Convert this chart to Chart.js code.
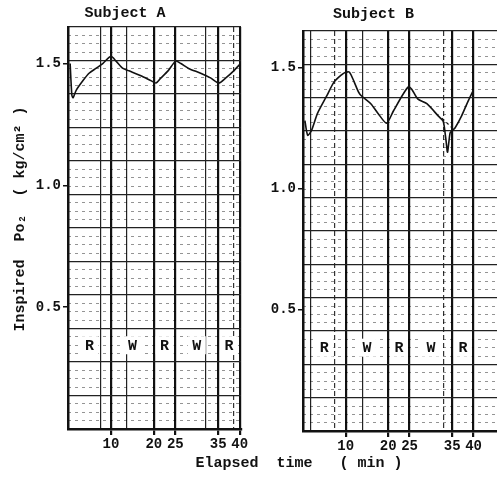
<!DOCTYPE html>
<html>
<head>
<meta charset="utf-8">
<script src="https://cdn.jsdelivr.net/npm/chart.js@4/dist/chart.umd.min.js"></script>
<style>
  html, body { margin: 0; padding: 0; background: #fff; width: 497px; height: 478px; overflow: hidden; }
  .panel { position: absolute; top: 0; height: 478px; }
  #wa { left: 0; width: 250px; }
  #wb { left: 250px; width: 247px; }
  #xtitle { position: absolute; left: 149px; width: 300px; top: 455px; text-align: center;
            font: bold 15px "Liberation Mono", monospace; white-space: pre; color: #111; }
</style>
</head>
<body>
<div class="panel" id="wa"><canvas id="ca" width="250" height="478"></canvas></div>
<div class="panel" id="wb"><canvas id="cb" width="247" height="478"></canvas></div>
<div id="xtitle">Elapsed  time   ( min )</div>
<script>
// Inspired oxygen partial pressure during alternating rest (R) / work (W) phases
const xTicks = [10, 20, 25, 35, 40];
const yTicks = [0.5, 1.0, 1.5];

const phaseStart  = [0, 10, 20, 25, 35];
const phaseEnd    = [10, 20, 25, 35, 40];
const phaseLabels = ['R', 'W', 'R', 'W', 'R'];

// Subject A
const aTime = [0.5, 0.9, 1.2, 1.9, 3.5, 4.9, 6.5, 8.1, 10.0, 11.2, 12.8, 14.2, 17.0, 19.3, 20.5,
               21.6, 23.3, 25.1, 26.3, 28.1, 30.9, 33.3, 35.1, 36.7, 38.6, 40.2];
const aPo2  = [1.50, 1.37, 1.36, 1.39, 1.43, 1.46, 1.48, 1.50, 1.53, 1.51, 1.48, 1.47, 1.45, 1.43, 1.42,
               1.44, 1.47, 1.51, 1.50, 1.48, 1.46, 1.44, 1.42, 1.44, 1.47, 1.50];

// Subject B
const bTime = [0.45, 1.1, 2.0, 3.4, 5.5, 7.3, 9.1, 10.0, 10.9, 12.0, 13.3, 15.9, 17.6, 19.6, 21.2,
               23.5, 24.75, 25.5, 26.9, 29.05, 31.7, 32.8, 33.1, 33.6, 33.9, 34.5, 35.0, 35.65,
               37.2, 38.7, 39.8];
const bPo2  = [1.28, 1.22, 1.24, 1.31, 1.38, 1.44, 1.47, 1.48, 1.48, 1.44, 1.39, 1.35, 1.31, 1.27, 1.32,
               1.39, 1.42, 1.41, 1.37, 1.35, 1.30, 1.28, 1.26, 1.19, 1.15, 1.23, 1.24, 1.25,
               1.30, 1.36, 1.40];
// dashed bridge across the brief dip
const bBridgeTime = [32.6, 35.0];
const bBridgePo2  = [1.29, 1.25];

// recorder paper rulings (minutes)
const aPaperSolid = [7.7, 13.7, 32.1];
const aPaperDash  = [38.6];
const bPaperSolid = [1.8, 14.0];
const bPaperDash  = [7.5, 33.0];

const MONO = '"Liberation Mono", "DejaVu Sans Mono", monospace';
const INK = '#111';

function pts(xs, ys) { return xs.map((x, i) => ({ x: x, y: ys[i] })); }

const phasePlugin = {
  id: 'phases',
  afterDatasetsDraw(chart) {
    const ctx = chart.ctx;
    const xs = chart.scales.x, yg = chart.scales.yGrid;
    const y = yg.getPixelForValue(2.5);
    ctx.save();
    ctx.font = 'bold 15px ' + MONO;
    ctx.textAlign = 'center';
    ctx.textBaseline = 'middle';
    phaseLabels.forEach((lab, i) => {
      const x = xs.getPixelForValue((phaseStart[i] + phaseEnd[i]) / 2);
      ctx.fillStyle = '#fff';
      ctx.fillRect(x - 9, y - 9, 18, 18);
      ctx.fillStyle = INK;
      ctx.fillText(lab, x, y + 1);
    });
    ctx.restore();
  }
};

function makePanel(id, cfg) {
  const datasets = [{
    data: pts(cfg.time, cfg.po2),
    borderColor: INK, borderWidth: 1.6, pointRadius: 0, tension: 0.25, fill: false
  }];
  if (cfg.bridge) {
    datasets.push({
      data: pts(cfg.bridge[0], cfg.bridge[1]),
      borderColor: INK, borderWidth: 1.2, borderDash: [3, 3], pointRadius: 0, fill: false
    });
  }
  return new Chart(document.getElementById(id), {
    type: 'line',
    data: { datasets: datasets },
    plugins: [phasePlugin],
    options: {
      responsive: false,
      animation: false,
      events: [],
      layout: { padding: { left: 0, right: cfg.rightPad, top: 0, bottom: 0 } },
      plugins: {
        legend: { display: false },
        tooltip: { enabled: false },
        title: {
          display: true, text: cfg.title, color: INK,
          font: { family: MONO, size: 15, weight: 'bold' },
          padding: cfg.titlePad
        }
      },
      scales: {
        x: {
          type: 'linear', position: 'bottom', min: 0, max: cfg.xMax,
          afterBuildTicks: s => { s.ticks = xTicks.map(v => ({ value: v })); },
          afterFit: s => { s.height = cfg.bottomH; },
          ticks: { color: INK, font: { family: MONO, size: 14, weight: 'bold' }, padding: 1, maxRotation: 0, autoSkip: false },
          grid: { color: INK, lineWidth: 2.2, drawOnChartArea: true, drawTicks: true, tickLength: 6 },
          border: { display: true, color: INK, width: 2.5 }
        },
        xThin: {
          type: 'linear', position: 'bottom', min: 0, max: cfg.xMax,
          afterBuildTicks: s => { s.ticks = cfg.paperSolid.map(v => ({ value: v })); },
          afterFit: s => { s.height = 0; },
          ticks: { display: false },
          grid: { color: '#222', lineWidth: 1.2, drawTicks: false },
          border: { display: false }
        },
        xDash: {
          type: 'linear', position: 'bottom', min: 0, max: cfg.xMax,
          afterBuildTicks: s => { s.ticks = cfg.paperDash.map(v => ({ value: v })); },
          afterFit: s => { s.height = 0; },
          ticks: { display: false },
          grid: { color: '#333', lineWidth: 1.2, drawTicks: false },
          border: { display: false, dash: [5, 3] }
        },
        y: {
          type: 'linear', position: 'left', min: 0, max: 1.65,
          afterBuildTicks: s => { s.ticks = yTicks.map(v => ({ value: v })); },
          afterFit: s => { s.width = cfg.leftW; },
          ticks: { color: INK, font: { family: MONO, size: 14, weight: 'bold' }, padding: 2, callback: v => v.toFixed(1) },
          grid: { color: INK, lineWidth: 1.5, drawOnChartArea: false, drawTicks: true, tickLength: 5 },
          border: { display: true, color: INK, width: 2.5 },
          title: {
            display: cfg.yTitle, text: '  Inspired  Po\u2082  ( kg/cm\u00b2 )', color: INK,
            font: { family: MONO, size: 15, weight: 'bold' }, padding: { top: 11, bottom: 0 }
          }
        },
        yGrid: {
          type: 'linear', position: 'right', min: 0, max: 12,
          afterFit: s => { s.width = 0; },
          ticks: { display: false, stepSize: 1 },
          grid: { color: '#222', lineWidth: 1.3, drawTicks: false },
          border: { display: false }
        },
        yTex: {
          type: 'linear', position: 'right', min: 0, max: 48,
          afterFit: s => { s.width = 0; },
          ticks: { display: false, stepSize: 1 },
          grid: {
            color: c => (c.tick && c.tick.value % 4 === 0) ? 'rgba(0,0,0,0)' : 'rgba(0,0,0,0.42)',
            lineWidth: 1, drawTicks: false
          },
          border: { display: false, dash: [3, 4] }
        }
      }
    }
  });
}

makePanel('ca', {
  title: ' Subject A', titlePad: { top: 4, bottom: 5 },
  time: aTime, po2: aPo2, xMax: 40.3, rightPad: 9, leftW: 68, bottomH: 49,
  paperSolid: aPaperSolid, paperDash: aPaperDash, yTitle: true
});
makePanel('cb', {
  title: 'Subject B', titlePad: { top: 5, bottom: 8 },
  time: bTime, po2: bPo2, bridge: [bBridgeTime, bBridgePo2], xMax: 45.5, rightPad: 0, leftW: 53, bottomH: 47,
  paperSolid: bPaperSolid, paperDash: bPaperDash, yTitle: false
});
</script>
</body>
</html>
